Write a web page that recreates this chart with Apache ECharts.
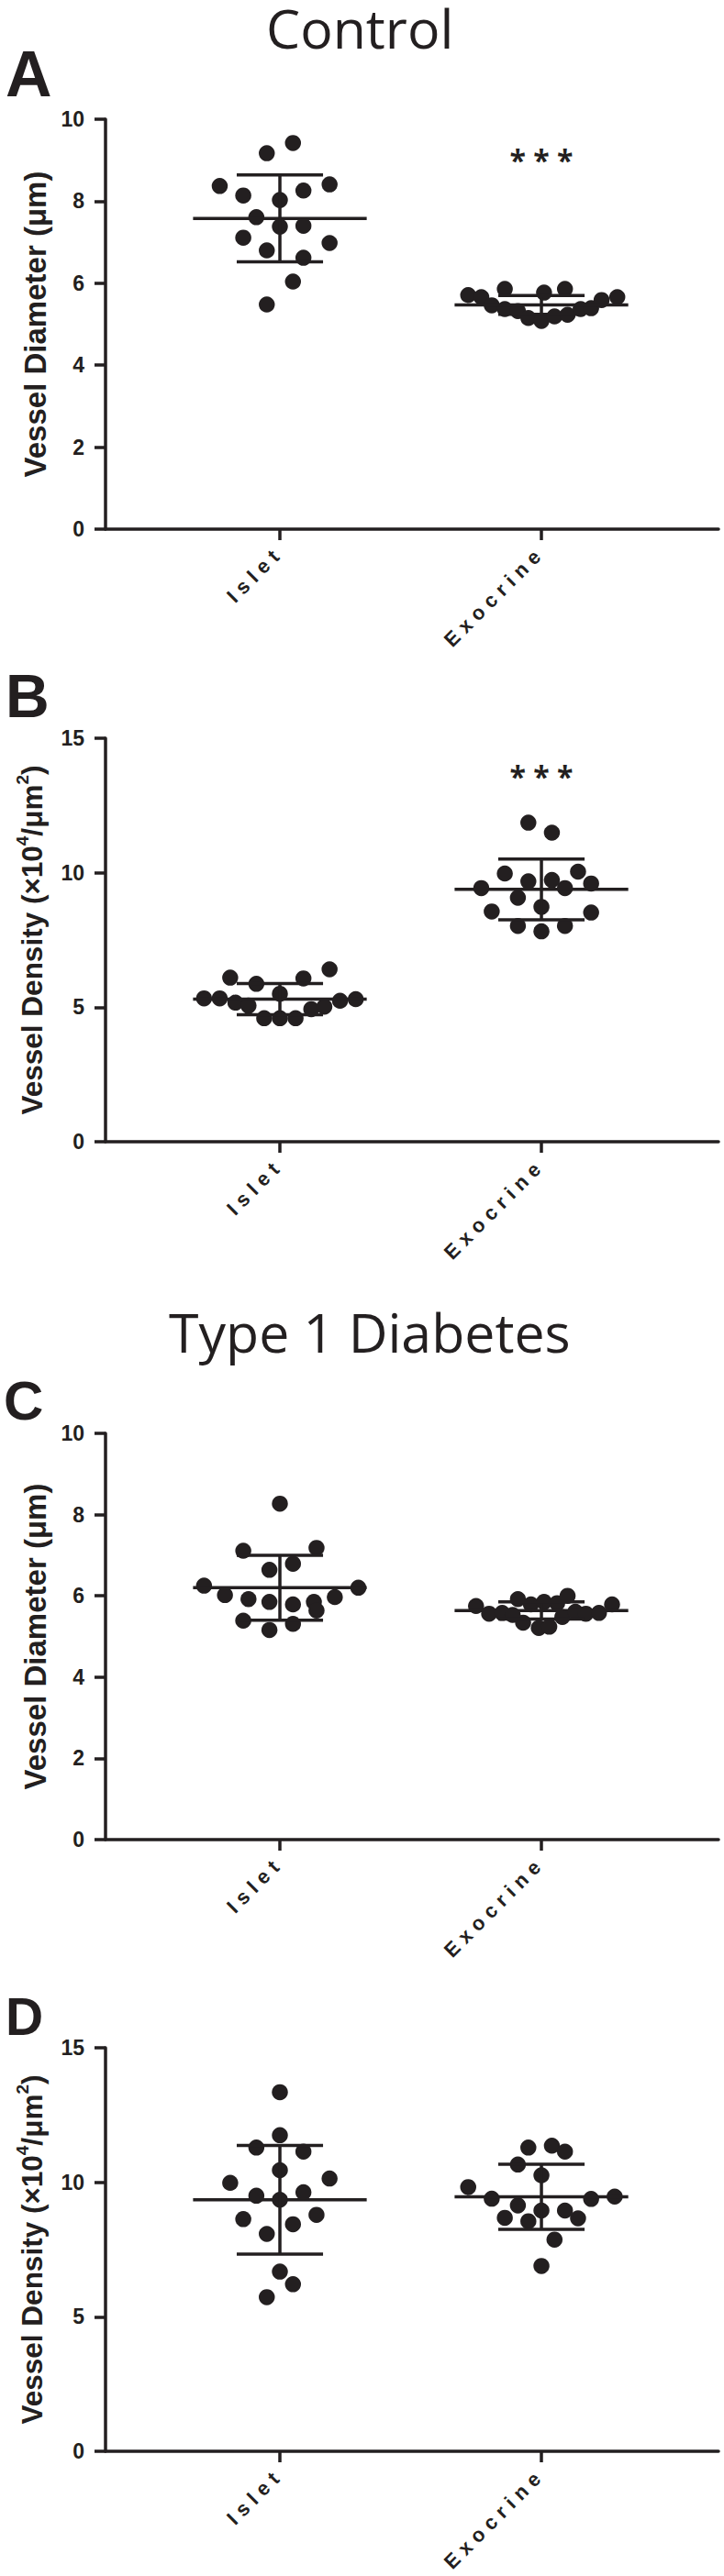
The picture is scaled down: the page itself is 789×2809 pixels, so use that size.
<!DOCTYPE html>
<html>
<head>
<meta charset="utf-8">
<script src="https://cdn.jsdelivr.net/npm/echarts@6/dist/echarts.min.js"></script>
<style>
html,body{margin:0;padding:0;background:#fff;}
#chart{width:789px;height:2809px;}
</style>
</head>
<body>
<div id="chart"></div>
<script>
// ---------------- data ----------------
const categories = ['Islet', 'Exocrine'];
const diameterTicks = [0, 2, 4, 6, 8, 10];
const densityTicks = [0, 5, 10, 15];
const diameterName = 'Vessel Diameter (\u03BCm)';
const densityNameParts = ['Vessel Density (\u00D710', '4', '/\u03BCm', '2', ')'];
const headings = ['Control', 'Type 1 Diabetes'];
const panelLetters = ['A', 'B', 'C', 'D'];

// Panel A: Control, vessel diameter
const aIslet = [9.42, 9.17, 8.37, 8.41, 8.14, 8.26, 8.03, 7.61, 7.38, 7.40, 7.11, 6.98, 6.80, 6.62, 6.04, 5.48];
const aIsletJitter = [0.05, -0.05, -0.23, 0.19, -0.14, 0.09, 0, -0.09, 0, 0.09, -0.14, 0.19, -0.05, 0.09, 0.05, -0.05];
const aExocrine = [5.71, 5.66, 5.46, 5.86, 5.37, 5.32, 5.15, 5.77, 5.08, 5.19, 5.86, 5.23, 5.37, 5.39, 5.59, 5.66];
const aExocrineJitter = [-0.28, -0.23, -0.19, -0.14, -0.14, -0.09, -0.05, 0.01, 0, 0.05, 0.09, 0.10, 0.15, 0.19, 0.23, 0.29];
const aMean = [7.58, 5.47];
const aSD = [1.06, 0.23];
const aSig = ['', '* * *'];
const aSigLevel = [null, 9.0];

// Panel B: Control, vessel density
const bIslet = [6.10, 5.87, 6.07, 6.41, 5.33, 5.33, 5.17, 5.06, 5.50, 4.59, 4.59, 4.59, 4.93, 5.02, 5.24, 5.30];
const bIsletJitter = [-0.19, -0.09, 0.09, 0.19, -0.29, -0.23, -0.17, -0.12, 0, 0, -0.06, 0.06, 0.12, 0.17, 0.23, 0.29];
const bExocrine = [11.86, 11.49, 9.97, 10.04, 9.43, 9.68, 9.73, 9.60, 9.43, 9.07, 8.73, 8.56, 8.52, 8.02, 8.02, 7.82];
const bExocrineJitter = [-0.05, 0.04, -0.14, 0.14, -0.23, -0.05, 0.04, 0.19, 0.09, -0.09, 0, -0.19, 0.19, -0.09, 0.09, 0];
const bMean = [5.30, 9.38];
const bSD = [0.58, 1.13];
const bSig = ['', '* * *'];
const bSigLevel = [null, 13.6];

// Panel C: Type 1 Diabetes, vessel diameter
const cIslet = [8.27, 7.11, 7.18, 6.64, 6.79, 6.25, 6.20, 6.02, 5.92, 5.85, 5.79, 5.85, 5.97, 5.64, 5.39, 5.31, 5.16];
const cIsletJitter = [0, -0.14, 0.14, -0.04, 0.05, -0.29, 0.30, -0.21, -0.12, -0.04, 0.05, 0.13, 0.21, 0.14, -0.14, 0.05, -0.04];
const cExocrine = [5.75, 5.56, 5.58, 5.92, 5.79, 5.85, 5.82, 6.00, 5.34, 5.21, 5.24, 5.48, 5.61, 5.56, 5.58, 5.79, 5.53];
const cExocrineJitter = [-0.25, -0.20, -0.15, -0.09, -0.04, 0.01, 0.06, 0.10, -0.07, -0.01, 0.03, 0.08, 0.13, 0.17, 0.22, 0.27, -0.11];
const cMean = [6.20, 5.64];
const cSD = [0.80, 0.21];

// Panel D: Type 1 Diabetes, vessel density
const dIslet = [13.35, 11.75, 11.29, 11.14, 10.45, 9.98, 10.14, 9.50, 9.35, 9.63, 8.63, 8.79, 8.44, 8.08, 6.68, 6.21, 5.73];
const dIsletJitter = [0, 0, -0.09, 0.09, 0, -0.19, 0.19, -0.09, 0, 0.09, -0.14, 0.14, 0.05, -0.05, 0, 0.05, -0.05];
const dExocrine = [11.29, 11.36, 11.14, 10.66, 10.26, 9.82, 9.39, 9.14, 8.95, 8.95, 8.68, 8.55, 8.66, 9.38, 9.47, 7.87, 6.89];
const dExocrineJitter = [-0.05, 0.04, 0.09, -0.09, 0, -0.28, -0.19, -0.09, 0, 0.09, -0.14, -0.05, 0.14, 0.19, 0.28, 0.05, 0];
const dMean = [9.35, 9.46];
const dSD = [2.02, 1.21];

// ---------------- styling / layout ----------------
const INK = '#231f20';
const SANS = 'Liberation Sans, Arial, sans-serif';
const TITLE_FONT = 'Open Sans, sans-serif';
const LW = 3.5;

const panels = [
  {values: [aIslet, aExocrine], jitter: [aIsletJitter, aExocrineJitter], mean: aMean, sd: aSD, ticks: diameterTicks, kind: 'diameter', sig: aSig, sigLevel: aSigLevel,
   nameSize: 33, grid: {left: 115, top: 130, width: 668, height: 447}},
  {values: [bIslet, bExocrine], jitter: [bIsletJitter, bExocrineJitter], mean: bMean, sd: bSD, ticks: densityTicks, kind: 'density', sig: bSig, sigLevel: bSigLevel,
   nameSize: 31.5, grid: {left: 115, top: 805, width: 668, height: 440}},
  {values: [cIslet, cExocrine], jitter: [cIsletJitter, cExocrineJitter], mean: cMean, sd: cSD, ticks: diameterTicks, kind: 'diameter', sig: null, sigLevel: null,
   nameSize: 33, grid: {left: 115, top: 1563, width: 668, height: 443}},
  {values: [dIslet, dExocrine], jitter: [dIsletJitter, dExocrineJitter], mean: dMean, sd: dSD, ticks: densityTicks, kind: 'density', sig: null, sigLevel: null,
   nameSize: 31.5, grid: {left: 115, top: 2233, width: 668, height: 440}}
];

const catPos = categories.map((c, i) => i + 1);
const X_MIN = 1 / 3, X_MAX = 2.677;

const grids = [], xAxes = [], yAxes = [], series = [];

panels.forEach((p, pi) => {
  grids.push(Object.assign({outerBoundsMode: 'none', containLabel: false}, p.grid));
  xAxes.push({
    type: 'value', gridIndex: pi, min: X_MIN, max: X_MAX,
    splitLine: {show: false},
    axisLine: {show: true, lineStyle: {color: INK, width: LW}},
    axisTick: {show: true, customValues: catPos, length: 12, lineStyle: {color: INK, width: LW}},
    axisLabel: {
      customValues: catPos, rotate: 45, margin: 22,
      formatter: v => categories[Math.round(v) - 1] || '',
      fontFamily: SANS, fontWeight: 'bold', fontSize: 22, color: INK
    }
  });
  const t = p.ticks;
  let yName, nameStyle;
  if (p.kind === 'diameter') {
    yName = diameterName;
    nameStyle = {fontFamily: SANS, fontWeight: 'bold', fontSize: p.nameSize, color: INK};
  } else {
    const q = densityNameParts;
    yName = '{n|' + q[0] + '}{s|' + q[1] + '}{n|' + q[2] + '}{s|' + q[3] + '}{n|' + q[4] + '}';
    nameStyle = {
      rich: {
        n: {fontFamily: SANS, fontWeight: 'bold', fontSize: p.nameSize, color: INK, lineHeight: 40},
        s: {fontFamily: SANS, fontWeight: 'bold', fontSize: 19, color: INK, verticalAlign: 'top'}
      }
    };
  }
  yAxes.push({
    type: 'value', gridIndex: pi,
    min: t[0], max: t[t.length - 1], interval: t[1] - t[0],
    name: yName, nameLocation: 'middle', nameGap: 60, nameTextStyle: nameStyle,
    splitLine: {show: false},
    axisLine: {show: true, lineStyle: {color: INK, width: LW}},
    axisTick: {show: true, length: 12, lineStyle: {color: INK, width: LW}},
    axisLabel: {margin: 23, fontFamily: SANS, fontWeight: 'bold', fontSize: 23, color: INK}
  });

  // dots
  categories.forEach((c, ci) => {
    series.push({
      type: 'scatter', xAxisIndex: pi, yAxisIndex: pi, name: c,
      symbol: 'circle', symbolSize: 17.5,
      itemStyle: {color: INK, opacity: 1},
      z: 2,
      data: p.values[ci].map((v, k) => [catPos[ci] + p.jitter[ci][k], v])
    });
  });

  // mean +/- SD
  series.push({
    type: 'custom', xAxisIndex: pi, yAxisIndex: pi, z: 3,
    data: categories.map((c, ci) => [catPos[ci], p.mean[ci], p.sd[ci]]),
    renderItem: function (params, api) {
      const x = api.value(0), m = api.value(1), s = api.value(2);
      const st = {stroke: INK, lineWidth: LW, fill: null};
      const seg = (a, b) => ({type: 'line', shape: {x1: a[0], y1: a[1], x2: b[0], y2: b[1]}, style: st});
      return {
        type: 'group',
        children: [
          seg(api.coord([x - 0.332, m]), api.coord([x + 0.332, m])),
          seg(api.coord([x, m - s]), api.coord([x, m + s])),
          seg(api.coord([x - 0.165, m + s]), api.coord([x + 0.165, m + s])),
          seg(api.coord([x - 0.165, m - s]), api.coord([x + 0.165, m - s]))
        ]
      };
    }
  });

  // significance markers
  if (p.sig) {
    series.push({
      type: 'scatter', xAxisIndex: pi, yAxisIndex: pi, symbolSize: 1, z: 4,
      silent: true,
      itemStyle: {color: 'rgba(0,0,0,0)', opacity: 1},
      data: categories.map((c, ci) => p.sig[ci] ? {value: [catPos[ci], p.sigLevel[ci]], label: {formatter: p.sig[ci]}} : null).filter(Boolean),
      label: {show: true, position: 'inside', fontFamily: TITLE_FONT, fontWeight: 'bold', fontSize: 32, color: INK, opacity: 1}
    });
  }
});

const titleStyle = {fontFamily: TITLE_FONT, fontWeight: 'normal', fontSize: 59, color: INK};
const letterStyle = (s) => ({fontFamily: SANS, fontWeight: 'bold', fontSize: s, color: INK});
const titles = [
  {text: headings[0], left: 290, top: 0, padding: 0, textStyle: titleStyle},
  {text: headings[1], left: 184, top: 1422, padding: 0, textStyle: titleStyle},
  {text: panelLetters[0], left: 6, top: 46, padding: 0, textStyle: letterStyle(70)},
  {text: panelLetters[1], left: 6, top: 726, padding: 0, textStyle: letterStyle(66)},
  {text: panelLetters[2], left: 4, top: 1497, padding: 0, textStyle: letterStyle(60)},
  {text: panelLetters[3], left: 6, top: 2170, padding: 0, textStyle: letterStyle(57)}
];

const chart = echarts.init(document.getElementById('chart'), null, {renderer: 'svg', width: 789, height: 2809});
chart.setOption({
  animation: false,
  backgroundColor: '#ffffff',
  title: titles,
  grid: grids,
  xAxis: xAxes,
  yAxis: yAxes,
  series: series
});

function spaceCategoryLabels() {
  document.querySelectorAll('#chart text').forEach(el => {
    if (categories.indexOf(el.textContent) >= 0) {
      el.style.letterSpacing = '6.5px';
    }
  });
}
spaceCategoryLabels();
chart.on('finished', spaceCategoryLabels);
</script>
</body>
</html>
